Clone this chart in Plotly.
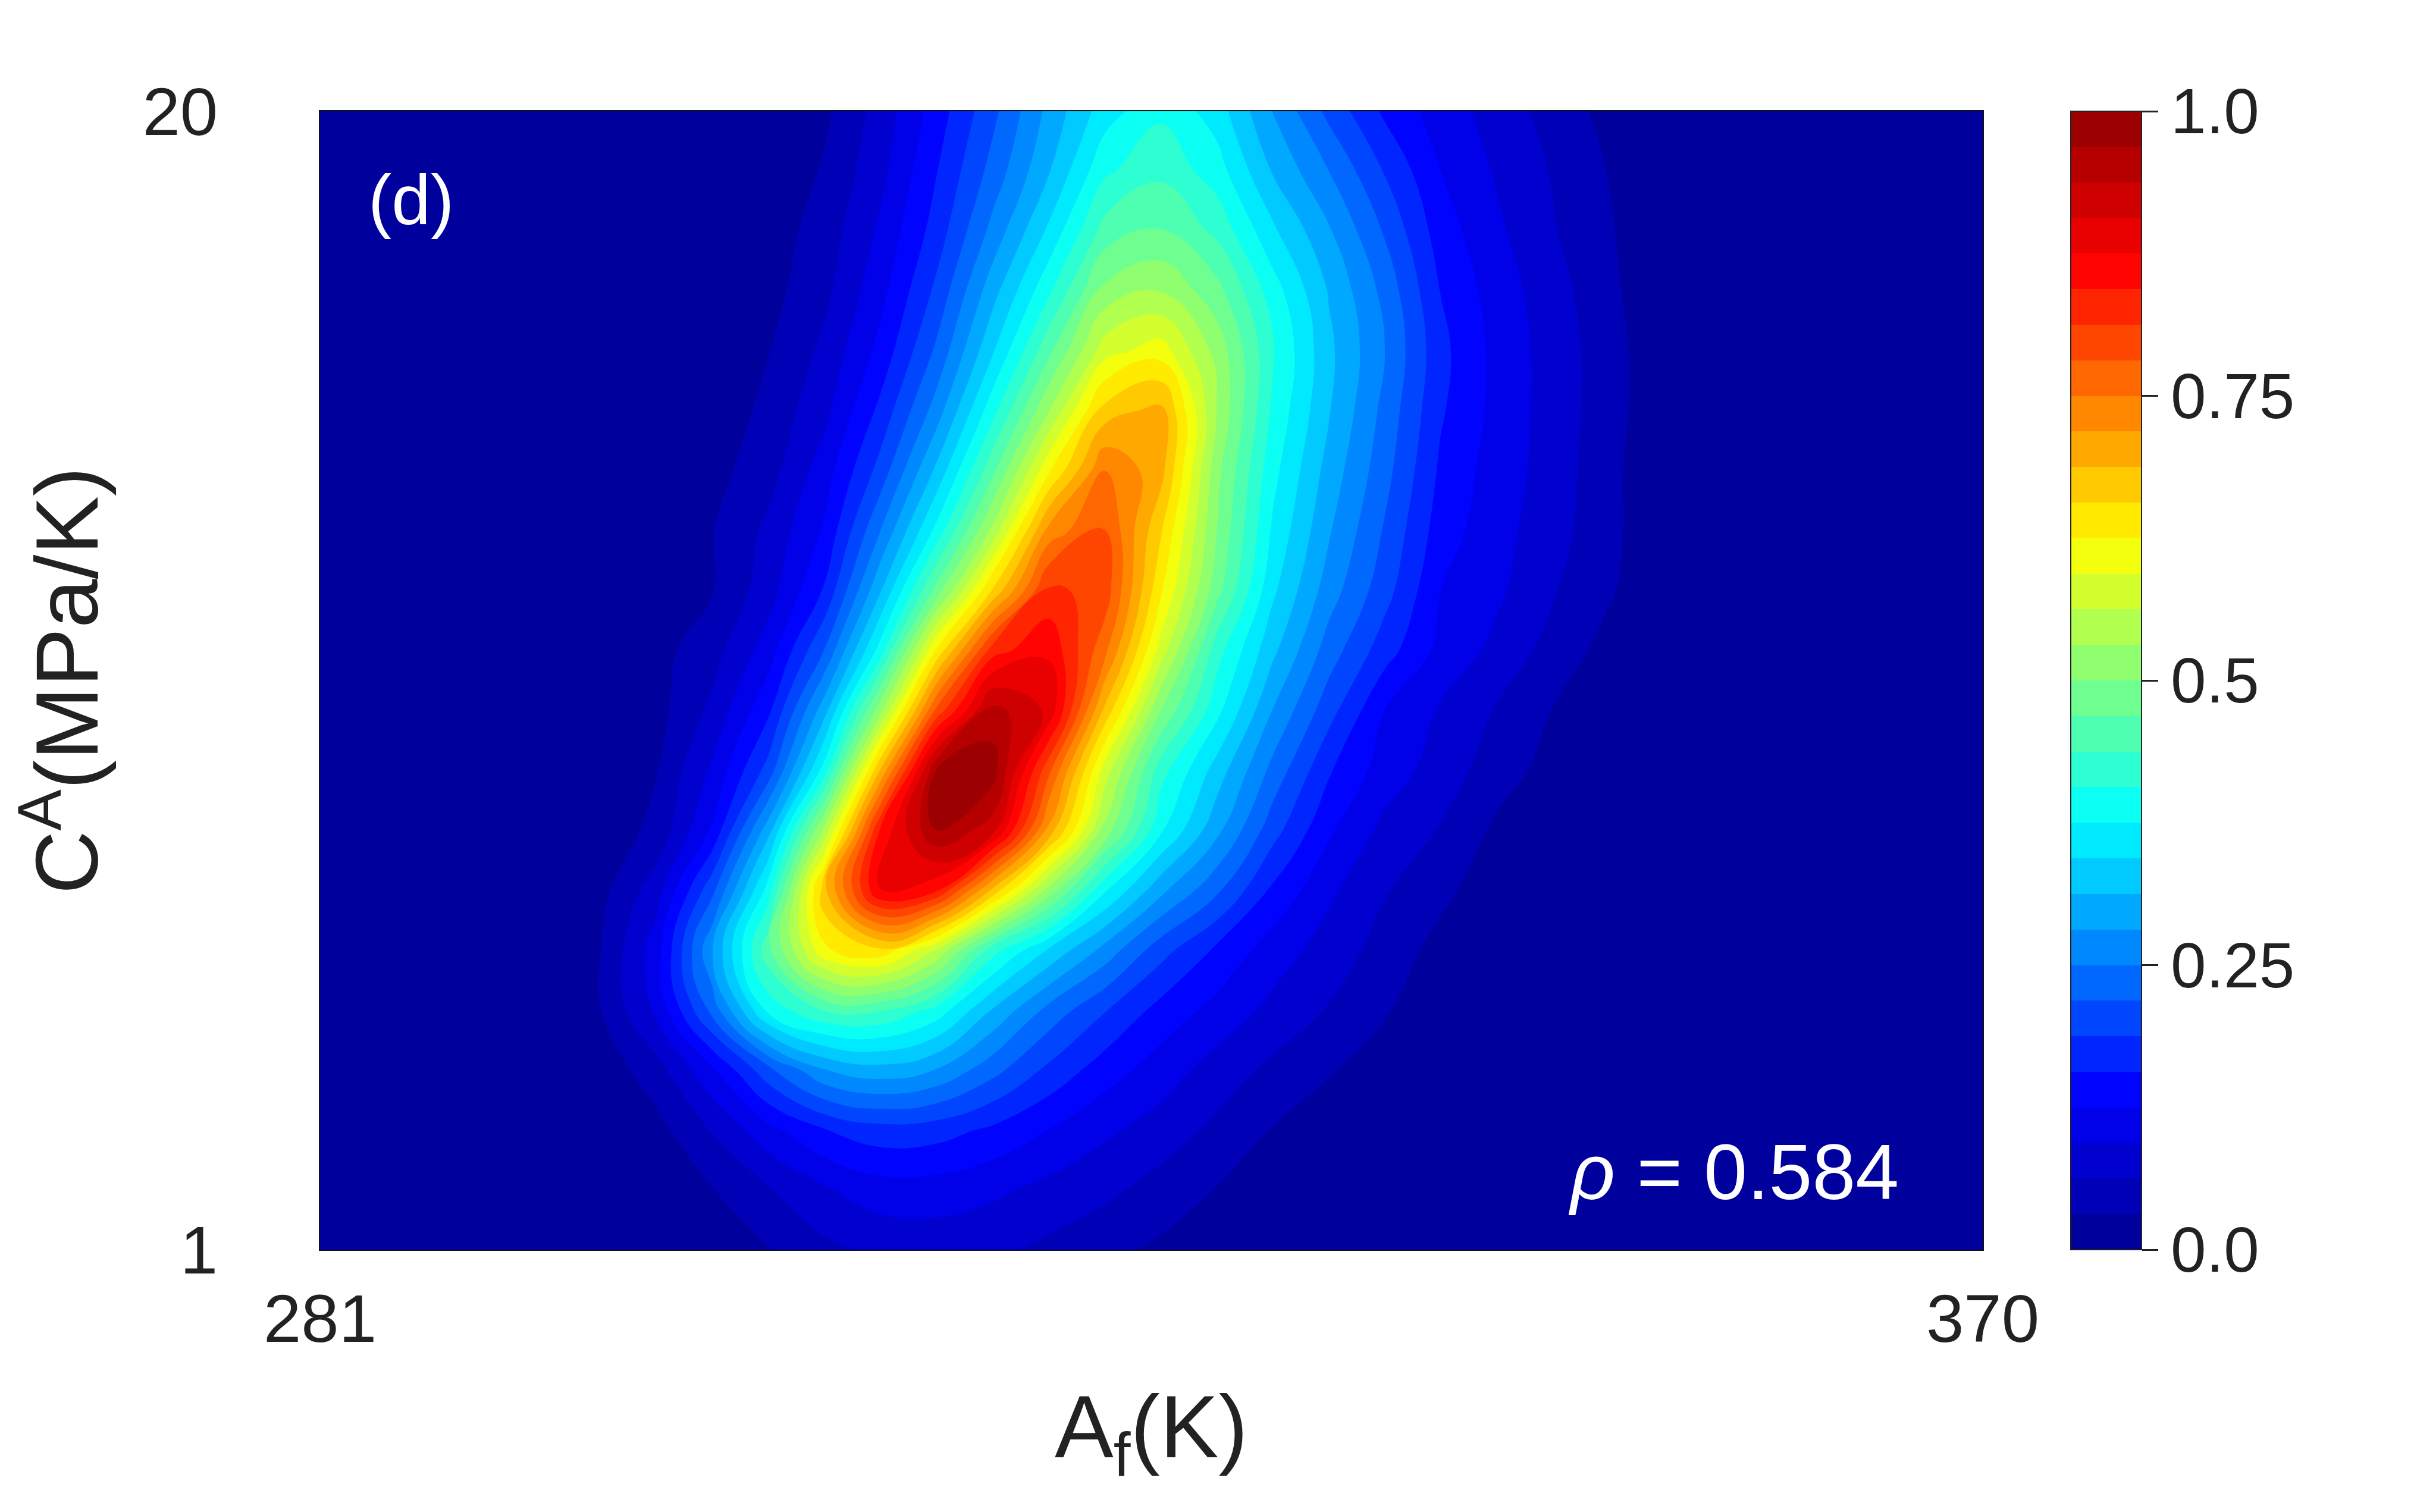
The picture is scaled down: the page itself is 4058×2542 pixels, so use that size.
import plotly.graph_objects as go

# Axis values (K and MPa/K)
af_k = [281, 284, 287, 290, 293, 296, 299, 302, 305, 308, 311, 314, 317, 320, 323, 326,
        329, 332, 335, 338, 341, 344, 347, 350, 353, 356, 359, 362, 365, 368, 370]
ca_mpa = list(range(1, 21))

# Normalised density, one list per C^A value (1 .. 20); columns 293 .. 353 K
ca_01 = [0,0,0,.01,.03,.055,.07,.075,.07,.055,.04,.025,.005,0,0,0,0,0,0,0,0]
ca_02 = [0,0,0,.03,.06,.09,.11,.11,.1,.085,.07,.05,.03,.005,0,0,0,0,0,0,0]
ca_03 = [0,0,.02,.065,.115,.155,.175,.17,.15,.125,.1,.08,.055,.03,.005,0,0,0,0,0,0]
ca_04 = [0,.01,.05,.12,.21,.28,.3,.28,.23,.18,.14,.11,.08,.055,.035,.01,0,0,0,0,0]
ca_05 = [0,.03,.1,.23,.385,.44,.44,.395,.31,.24,.19,.145,.115,.085,.06,.035,.005,0,0,0,0]
ca_06 = [.005,.03,.11,.28,.46,.62,.65,.56,.42,.34,.27,.2,.15,.11,.08,.05,.02,0,0,0,0]
ca_07 = [.005,.02,.08,.21,.39,.68,.88,.85,.68,.52,.38,.29,.225,.15,.1,.065,.04,.01,0,0,0]
ca_08 = [0,.01,.04,.13,.3,.54,.85,.97,.92,.71,.52,.38,.29,.2,.13,.085,.06,.025,.005,0,0]
ca_09 = [0,.005,.03,.1,.2,.39,.69,.97,.985,.79,.58,.42,.33,.24,.16,.11,.08,.045,.02,0,0]
ca_10 = [0,.005,.02,.07,.15,.3,.52,.79,.95,.9,.68,.5,.385,.28,.2,.125,.09,.06,.03,.005,0]
ca_11 = [0,.005,.02,.05,.11,.22,.39,.63,.83,.87,.76,.58,.42,.32,.235,.17,.115,.085,.05,.02,0]
ca_12 = [0,0,.01,.03,.08,.16,.31,.48,.66,.82,.8,.63,.48,.35,.265,.2,.125,.1,.065,.035,.005]
ca_13 = [0,0,.01,.03,.07,.13,.25,.385,.54,.73,.785,.66,.5,.37,.285,.215,.14,.105,.075,.04,.005]
ca_14 = [0,0,.01,.02,.05,.11,.2,.32,.46,.62,.75,.7,.51,.385,.3,.23,.15,.11,.08,.04,.005]
ca_15 = [0,0,0,.01,.04,.085,.165,.265,.395,.53,.67,.7,.53,.4,.315,.24,.16,.115,.08,.045,.005]
ca_16 = [0,0,0,.005,.03,.07,.135,.225,.34,.46,.58,.61,.52,.41,.32,.25,.165,.115,.08,.045,.005]
ca_17 = [0,0,0,0,.02,.055,.115,.195,.3,.4,.51,.53,.48,.39,.31,.24,.155,.11,.075,.04,0]
ca_18 = [0,0,0,0,.015,.045,.1,.17,.26,.35,.45,.47,.43,.35,.285,.215,.14,.1,.065,.035,0]
ca_19 = [0,0,0,0,.005,.035,.085,.155,.23,.31,.4,.43,.39,.31,.25,.185,.125,.09,.06,.03,0]
ca_20 = [0,0,0,0,0,.025,.075,.14,.21,.29,.36,.4,.36,.28,.21,.15,.11,.08,.05,.02,0]

rows = [ca_01, ca_02, ca_03, ca_04, ca_05, ca_06, ca_07, ca_08, ca_09, ca_10,
        ca_11, ca_12, ca_13, ca_14, ca_15, ca_16, ca_17, ca_18, ca_19, ca_20]
left_pad = [0, 0, 0, 0]
right_pad = [0, 0, 0, 0, 0, 0]
density = [left_pad + r + right_pad for r in rows]

x_ticks = [281, 370]
y_ticks = [1, 20]
bar_ticks = [0, 0.25, 0.5, 0.75, 1.0]
bar_labels = ["0.0", "0.25", "0.5", "0.75", "1.0"]

jet = [[0, "#00009c"], [0.125, "#0000ff"], [0.375, "#00ffff"],
       [0.625, "#ffff00"], [0.875, "#ff0000"], [1, "#9c0000"]]

FONT = "Liberation Sans"
TXT = "#222222"

fig = go.Figure(go.Contour(
    x=af_k, y=ca_mpa, z=density,
    colorscale=jet, zmin=0, zmax=1,
    contours=dict(start=1/32, end=31/32, size=1/32, coloring="fill", showlines=False),
    line=dict(width=0, smoothing=1.3),
    colorbar=dict(
        x=1.053, xanchor="left", xpad=0, y=0.5, yanchor="middle", ypad=0,
        len=1, lenmode="fraction", thickness=119, thicknessmode="pixels",
        tickmode="array", tickvals=bar_ticks, ticktext=bar_labels,
        ticks="outside", ticklen=27, tickwidth=3, tickcolor="#222222",
        outlinewidth=2, outlinecolor="#222222", borderwidth=0,
        tickfont=dict(family=FONT, size=107, color=TXT),
    ),
))

fig.update_layout(
    width=4050, height=2534, autosize=False,
    margin=dict(l=530, r=725, t=179, b=441, pad=0),
    paper_bgcolor="white", plot_bgcolor="#00009c",
    font=dict(family=FONT, color=TXT),
    xaxis=dict(
        range=[281, 370], tickmode="array", tickvals=x_ticks, ticks="",
        showgrid=False, zeroline=False, mirror=True, showline=True,
        linecolor="#111111", linewidth=2, ticklabelstandoff=16,
        tickfont=dict(family=FONT, size=114, color=TXT),
        title=dict(text="A<sub>f</sub>(K)", font=dict(family=FONT, size=148, color=TXT), standoff=68),
    ),
    yaxis=dict(
        range=[1, 20], tickmode="array", tickvals=y_ticks, ticks="",
        showgrid=False, zeroline=False, mirror=True, showline=True,
        linecolor="#111111", linewidth=2, ticklabelstandoff=147,
        tickfont=dict(family=FONT, size=114, color=TXT),
        title=dict(text="C<sup>A</sup>(MPa/K)", font=dict(family=FONT, size=148, color=TXT), standoff=26),
    ),
    annotations=[
        dict(text="(d)", xref="paper", yref="paper", x=0.0546, y=0.922, showarrow=False,
             xanchor="center", yanchor="middle", font=dict(family=FONT, size=118, color="white")),
        dict(text="<i>ρ</i> = 0.584", xref="paper", yref="paper", x=0.85, y=0.068, showarrow=False,
             xanchor="center", yanchor="middle", font=dict(family=FONT, size=131, color="white")),
    ],
)

fig.write_html("out.html")
